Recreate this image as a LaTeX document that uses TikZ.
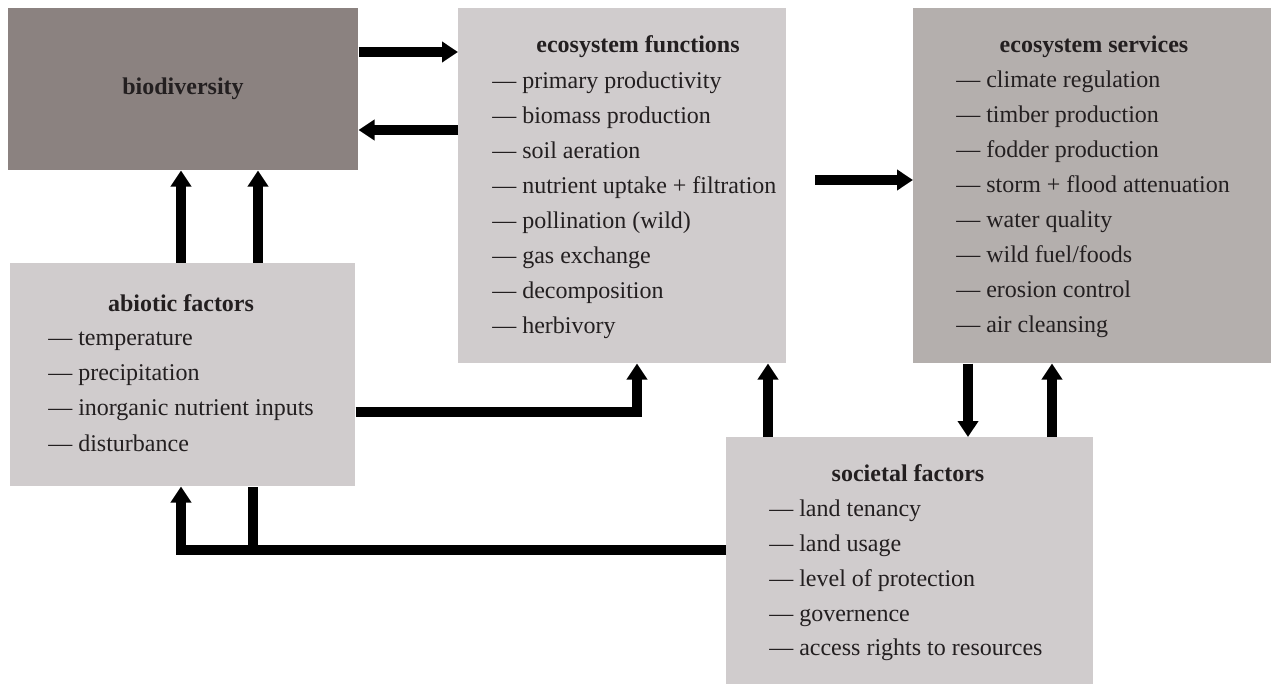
\documentclass[tikz,border=0pt]{standalone}
\usepackage{fontspec}
\setmainfont{Liberation Serif}
\usetikzlibrary{arrows.meta}
\definecolor{biocol}{RGB}{139,130,128}
\definecolor{lightbox}{RGB}{208,204,205}
\definecolor{servcol}{RGB}{180,175,173}
\definecolor{txt}{RGB}{35,31,32}
\tikzset{
  boxnode/.style={draw=none,rectangle,inner sep=0pt,anchor=north west},
  ttl/.style={font=\fontsize{18}{22}\selectfont\bfseries,text=txt,inner sep=0pt,anchor=base},
  itm/.style={font=\fontsize{18}{22}\selectfont,text=txt,inner sep=0pt,anchor=base west},
  flow/.style={line width=7.5pt,line join=miter,-{Triangle[width=15pt,length=12pt]}},
  flowplain/.style={line width=7.5pt,line join=miter}
}
\begin{document}
\begin{tikzpicture}[x=0.75pt,y=-0.75pt]
\useasboundingbox (0,0) rectangle (1271,684);
% boxes
\node[boxnode,fill=biocol,minimum width=350*0.75pt,minimum height=162*0.75pt] (bio) at (8,8) {};
\node[boxnode,fill=lightbox,minimum width=328*0.75pt,minimum height=355*0.75pt] (fun) at (458,8) {};
\node[boxnode,fill=servcol,minimum width=358*0.75pt,minimum height=355*0.75pt] (ser) at (913,8) {};
\node[boxnode,fill=lightbox,minimum width=345*0.75pt,minimum height=223*0.75pt] (abi) at (10,263) {};
\node[boxnode,fill=lightbox,minimum width=367*0.75pt,minimum height=247*0.75pt] (soc) at (726,437) {};
% texts
\node[ttl] (biot) at (183,95) {biodiversity};
\node[ttl] (funt) at (638,53) {ecosystem functions};
\node[itm] (fun1) at (492,89) {— primary productivity};
\node[itm] (fun2) at (492,124) {— biomass production};
\node[itm] (fun3) at (492,159) {— soil aeration};
\node[itm] (fun4) at (492,194) {— nutrient uptake + filtration};
\node[itm] (fun5) at (492,229) {— pollination (wild)};
\node[itm] (fun6) at (492,264) {— gas exchange};
\node[itm] (fun7) at (492,299) {— decomposition};
\node[itm] (fun8) at (492,334) {— herbivory};
\node[ttl] (sert) at (1094,53) {ecosystem services};
\node[itm] (ser1) at (956,88) {— climate regulation};
\node[itm] (ser2) at (956,123) {— timber production};
\node[itm] (ser3) at (956,158) {— fodder production};
\node[itm] (ser4) at (956,193) {— storm + flood attenuation};
\node[itm] (ser5) at (956,228) {— water quality};
\node[itm] (ser6) at (956,263) {— wild fuel/foods};
\node[itm] (ser7) at (956,298) {— erosion control};
\node[itm] (ser8) at (956,333) {— air cleansing};
\node[ttl] (abit) at (181,311) {abiotic factors};
\node[itm] (abi1) at (48,345) {— temperature};
\node[itm] (abi2) at (48,380) {— precipitation};
\node[itm] (abi3) at (48,415) {— inorganic nutrient inputs};
\node[itm] (abi4) at (48,451) {— disturbance};
\node[ttl] (soct) at (908,481) {societal factors};
\node[itm] (soc1) at (769,516) {— land tenancy};
\node[itm] (soc2) at (769,551) {— land usage};
\node[itm] (soc3) at (769,586) {— level of protection};
\node[itm] (soc4) at (769,621) {— governence};
\node[itm] (soc5) at (769,655) {— access rights to resources};
% connectors
\draw[flow] (bio.east |- 0,52) -- (fun.west |- 0,52);
\draw[flow] (fun.west |- 0,130) -- (bio.east |- 0,130);
\draw[flow] (181,0 |- abi.north) -- (181,0 |- bio.south);
\draw[flow] (258,0 |- abi.north) -- (258,0 |- bio.south);
\draw[flow] (abi.east |- 0,412) -- (637,412) -- (637,0 |- fun.south);
\draw[flow] (768,0 |- soc.north) -- (768,0 |- fun.south);
\coordinate (fsstart) at (815,180);
\draw[flow] (fsstart) -- (ser.west |- fsstart);
\draw[flow] (968,0 |- ser.south) -- (968,0 |- soc.north);
\draw[flow] (1052,0 |- soc.north) -- (1052,0 |- ser.south);
\draw[flowplain] (253,550) -- (253,0 |- abi.south);
\draw[flow] (soc.west |- 0,550) -- (181,550) -- (181,0 |- abi.south);
\end{tikzpicture}
\end{document}
